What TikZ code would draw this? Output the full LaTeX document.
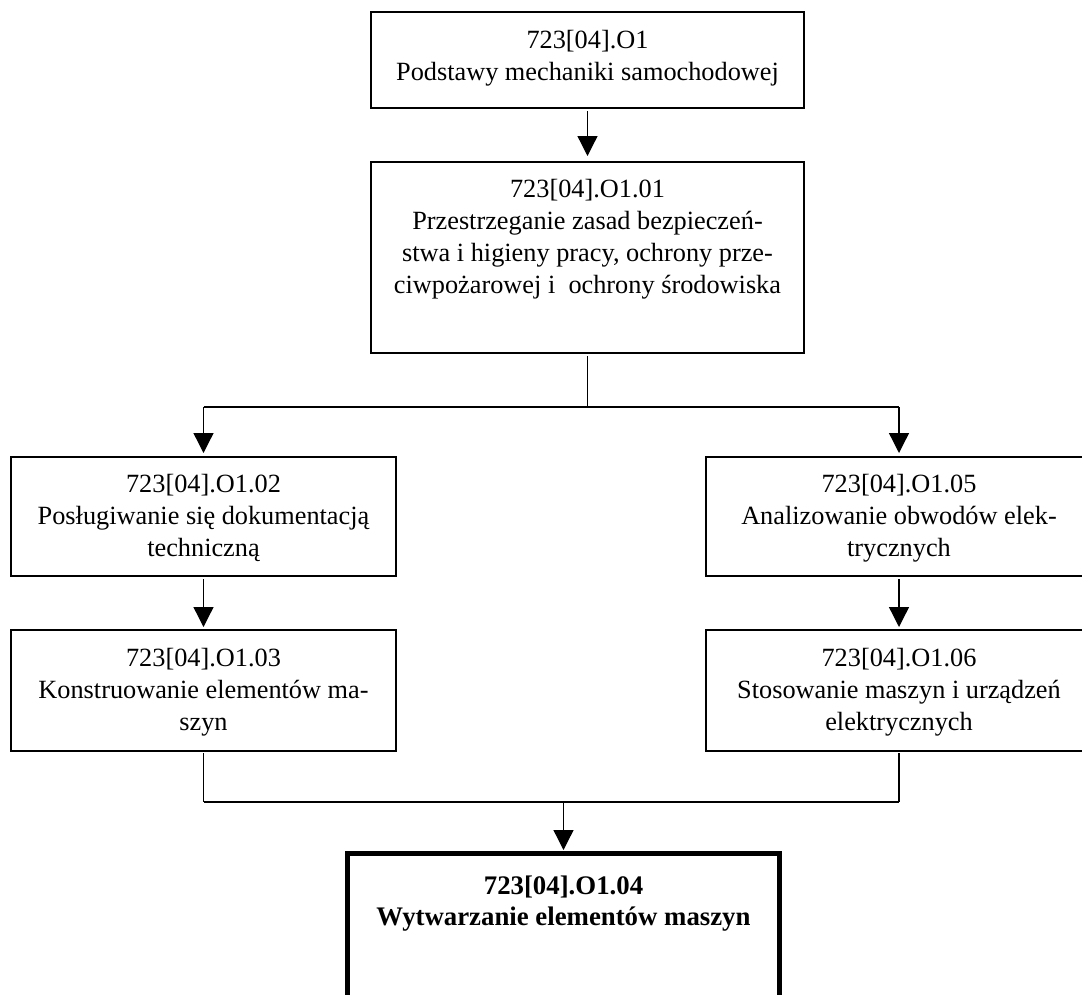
\documentclass[tikz,border=0pt]{standalone}
\usepackage{fontspec}
\setmainfont{Liberation Serif}
\usetikzlibrary{arrows.meta}
\begin{document}
\begin{tikzpicture}[x=1pt,y=-1pt,
  box/.style={draw, line width=1.3pt, rectangle, inner sep=0pt, outer sep=0pt, anchor=north west},
  thickbox/.style={box, line width=5pt},
  txt/.style={anchor=north, align=center, inner sep=0pt, font=\fontsize{26.3}{32}\selectfont},
  btxt/.style={anchor=north, align=center, inner sep=0pt, font=\fontsize{26.8}{31}\selectfont\bfseries},
  conn/.style={line width=1.3pt},
  arr/.style={conn, -{Triangle[length=20pt,width=20pt]}}]
\useasboundingbox (0,0) rectangle (1082,994);
% boxes
\node[box, minimum width=433pt, minimum height=96pt] (b1) at (371,12) {};
\node[box, minimum width=433pt, minimum height=191pt] (b2) at (371,162) {};
\node[box, minimum width=385pt, minimum height=119pt] (b3) at (11,457) {};
\node[box, minimum width=385pt, minimum height=121pt] (b4) at (11,630) {};
\node[box, minimum width=386pt, minimum height=119pt] (b5) at (706,457) {};
\node[box, minimum width=386pt, minimum height=121pt] (b6) at (706,630) {};
\node[thickbox, minimum width=432pt, minimum height=200pt] (b7) at (347.5,853.5) {};
% texts
\node[txt] (t1) at (587.5,30) {723[04].O1\\Podstawy mechaniki samochodowej};
\node[txt] (t2) at (587.5,179) {723[04].O1.01\\Przestrzeganie zasad bezpiecze\'n-\\stwa i higieny pracy, ochrony prze-\\ciwpożarowej i\ \ ochrony środowiska};
\node[txt] (t3) at (203.5,474) {723[04].O1.02\\Posługiwanie się dokumentacją\\techniczną};
\node[txt] (t4) at (203.5,648) {723[04].O1.03\\Konstruowanie elementów ma-\\szyn};
\node[txt] (t5) at (899,474) {723[04].O1.05\\Analizowanie obwodów elek-\\trycznych};
\node[txt] (t6) at (899,648) {723[04].O1.06\\Stosowanie maszyn i urządzeń\\elektrycznych};
\node[btxt] (t7) at (563.5,876) {723[04].O1.04\\Wytwarzanie elementów maszyn};
% junction coordinates
\coordinate (jM) at (587.5,407);
\coordinate (jL) at (203.5,407);
\coordinate (jR) at (899,407);
\coordinate (kL) at (203.5,802);
\coordinate (kR) at (899,802);
\coordinate (kM) at (563.5,802);
% connectors
\draw[arr, shorten <=3pt, shorten >=6pt] (b1.south) -- (b2.north);
\draw[conn, shorten <=3pt] (b2.south) -- (jM);
\draw[conn] (jL) -- (jR);
\draw[arr, shorten >=4pt] (jL) -- (b3.north);
\draw[arr, shorten >=4pt] (jR) -- (b5.north);
\draw[arr, shorten <=3pt, shorten >=3pt] (b3.south) -- (b4.north);
\draw[arr, shorten <=3pt, shorten >=3pt] (b5.south) -- (b6.north);
\draw[conn, shorten <=2pt] (b4.south) -- (kL);
\draw[conn, shorten <=2pt] (b6.south) -- (kR);
\draw[conn] (kL) -- (kR);
\draw[arr, shorten >=3.5pt] (kM) -- (b7.north);
\end{tikzpicture}
\end{document}
